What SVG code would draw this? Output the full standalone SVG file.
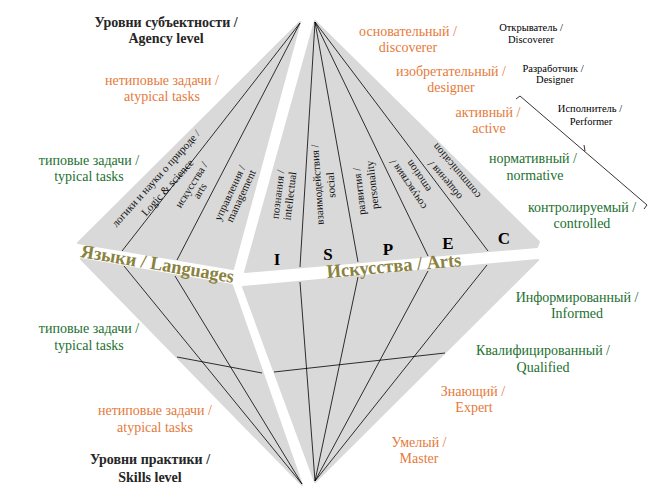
<svg xmlns="http://www.w3.org/2000/svg" width="667" height="496" viewBox="0 0 667 496" font-family="Liberation Serif, DejaVu Serif, serif">
<style>
.reg{fill:#d9d9d9;stroke:#d9d9d9;stroke-width:2;stroke-linejoin:round}
.ln{stroke:#000;stroke-width:0.8;fill:none}
.h,.o,.g,.s,.r,.L,.t{font-family:'Liberation Serif','DejaVu Serif',serif}
.h{font-size:14px;font-weight:bold;fill:#262626;text-anchor:middle}
.o{font-size:14px;fill:#E57A3B;text-anchor:middle}
.g{font-size:14px;fill:#22702F;text-anchor:middle}
.s{font-size:10.5px;fill:#000;text-anchor:middle}
.r{font-size:11px;fill:#111;text-anchor:middle}
.L{font-size:17px;font-weight:bold;fill:#000;text-anchor:middle}
.t{font-size:19px;font-weight:bold;fill:#8A8240;text-anchor:middle}
</style>
<rect width="667" height="496" fill="#fff"/>

<g id="languages-top"><polygon class="reg" points="300,22 78,243 233,269"/></g>
<g id="languages-bottom"><polygon class="reg" points="81,259 232,285 302,485"/></g>
<g id="arts-top"><polygon class="reg" points="315,21 539,242 537,247 245,272"/></g>
<g id="arts-bottom"><polygon class="reg" points="243,287 538,260 315,482"/></g>

<g id="connectors" class="ln">
<line x1="300" y1="23" x2="122" y2="251"/>
<line x1="300" y1="23" x2="177" y2="260"/>
<line x1="302" y1="484" x2="124" y2="266"/>
<line x1="302" y1="484" x2="175" y2="276"/>
<line x1="177" y1="357" x2="262" y2="373"/>
<line x1="315" y1="22" x2="300" y2="267"/>
<line x1="315" y1="22" x2="358" y2="262"/>
<line x1="315" y1="22" x2="428" y2="256"/>
<line x1="315" y1="22" x2="488" y2="251"/>
<line x1="315" y1="481" x2="300" y2="282"/>
<line x1="315" y1="481" x2="358" y2="277"/>
<line x1="315" y1="481" x2="428" y2="271"/>
<line x1="315" y1="481" x2="487" y2="265"/>
<line x1="274" y1="372" x2="445" y2="353"/>
<path d="M516,99 L520,96 L647,205 L644,209 M585,151 L584,145"/>
</g>

<g id="languages-labels">
<text class="r" transform="translate(156,178.5) rotate(-48)" y="3.5">логики и науки о природе /</text>
<text class="r" transform="translate(167.5,187.5) rotate(-48)" y="3.5">Logic &amp; science</text>
<text class="r" transform="translate(191.5,185) rotate(-58)" y="3.5">искусства /</text>
<text class="r" transform="translate(200,191) rotate(-58)" y="3.5">arts</text>
<text class="r" transform="translate(230,193) rotate(-65)" y="3.5">управления /</text>
<text class="r" transform="translate(241,196) rotate(-65)" y="3.5">management</text>
<text class="t" transform="translate(156.5,270) rotate(9.6)" textLength="155" lengthAdjust="spacingAndGlyphs">Языки / Languages</text>
</g>

<g id="arts-labels">
<text class="r" transform="translate(278,194.5) rotate(-83)" y="3.5">познания /</text>
<text class="r" transform="translate(290,196) rotate(-83)" y="3.5">intellectual</text>
<text class="r" transform="translate(317.5,184.5) rotate(-94)" y="3.5">взаимодействия /</text>
<text class="r" transform="translate(331,185) rotate(-94)" y="3.5">social</text>
<text class="r" transform="translate(359.5,191.5) rotate(-97)" y="3.5">развития /</text>
<text class="r" transform="translate(372.5,185) rotate(-97)" y="3.5">personality</text>
<text class="r" transform="translate(408,184.5) rotate(-124)" y="3.5">сочувствия /</text>
<text class="r" transform="translate(418.5,176) rotate(-124)" y="3.5">emotion</text>
<text class="r" transform="translate(445,180.5) rotate(-130)" y="3.5">общения /</text>
<text class="r" transform="translate(456.5,171) rotate(-130)" y="3.5">communication</text>
<text class="L" x="277" y="265">I</text>
<text class="L" x="328" y="260">S</text>
<text class="L" x="388" y="255">P</text>
<text class="L" x="448" y="249">E</text>
<text class="L" x="504" y="244">C</text>
<text class="t" transform="translate(394.5,272) rotate(-5.1)" textLength="135" lengthAdjust="spacingAndGlyphs">Искусства / Arts</text>
</g>

<g id="left-labels">
<text class="h" x="166" y="27">Уровни субъектности /</text>
<text class="h" x="166" y="43">Agency level</text>
<text class="o" x="162" y="85">нетиповые задачи /</text>
<text class="o" x="162" y="101">atypical tasks</text>
<text class="g" x="89" y="165">типовые задачи /</text>
<text class="g" x="89" y="181">typical tasks</text>
<text class="g" x="89" y="333">типовые задачи /</text>
<text class="g" x="89" y="350">typical tasks</text>
<text class="o" x="155" y="415">нетиповые задачи /</text>
<text class="o" x="155" y="432">atypical tasks</text>
<text class="h" x="150" y="464">Уровни практики /</text>
<text class="h" x="150" y="482">Skills level</text>
</g>

<g id="right-labels">
<text class="o" x="408" y="36">основательный /</text>
<text class="o" x="408" y="52">discoverer</text>
<text class="o" x="451" y="76">изобретательный /</text>
<text class="o" x="451" y="92">designer</text>
<text class="o" x="488" y="117">активный /</text>
<text class="o" x="489" y="133">active</text>
<text class="g" x="533" y="163">нормативный /</text>
<text class="g" x="535" y="180">normative</text>
<text class="g" x="582" y="212">контролируемый /</text>
<text class="g" x="582" y="228">controlled</text>
<text class="g" x="577" y="302">Информированный /</text>
<text class="g" x="577" y="318">Informed</text>
<text class="g" x="543" y="355">Квалифицированный /</text>
<text class="g" x="543" y="372">Qualified</text>
<text class="o" x="473" y="396">Знающий /</text>
<text class="o" x="474" y="412">Expert</text>
<text class="o" x="419" y="447">Умелый /</text>
<text class="o" x="419" y="463">Master</text>
</g>

<g id="role-labels">
<text class="s" x="531" y="31">Открыватель /</text>
<text class="s" x="531" y="43">Discoverer</text>
<text class="s" x="553" y="72">Разработчик /</text>
<text class="s" x="555" y="83">Designer</text>
<text class="s" x="590" y="112">Исполнитель /</text>
<text class="s" x="591" y="125">Performer</text>
</g>
</svg>
